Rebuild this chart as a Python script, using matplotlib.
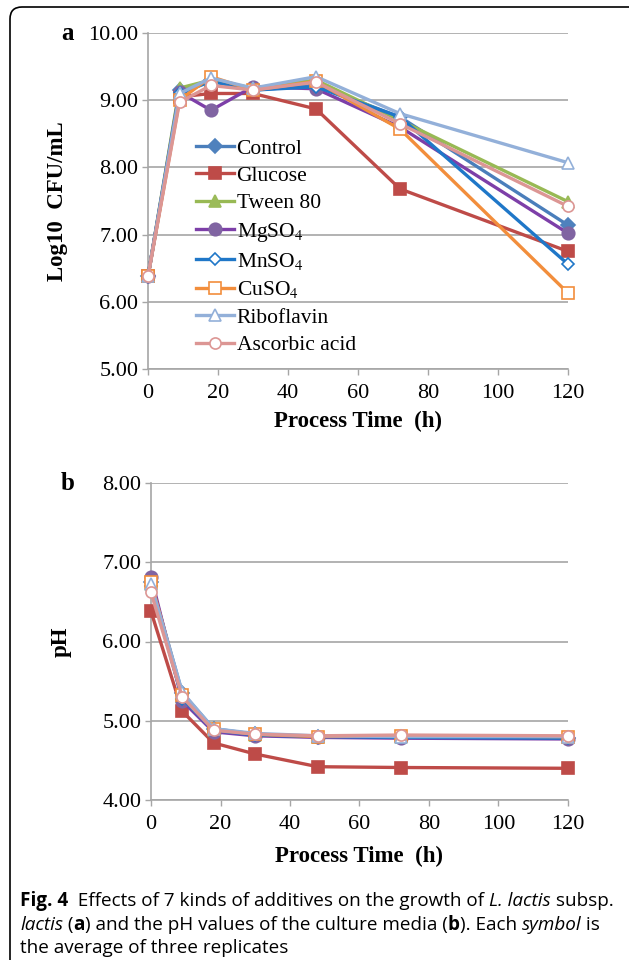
import matplotlib
matplotlib.use("Agg")
import matplotlib.pyplot as plt
from matplotlib.path import Path
from matplotlib.patches import PathPatch

plt.rcParams['font.family'] = ['Liberation Serif', 'DejaVu Serif']
plt.rcParams['mathtext.fontset'] = 'stix'

# -------------------------
# Data
# -------------------------
hours = [0, 9, 18, 30, 48, 72, 120]
labels = ["Control", "Glucose", "Tween 80", "MgSO$_4$", "MnSO$_4$",
          "CuSO$_4$", "Riboflavin", "Ascorbic acid"]

cfu_control = [6.38, 9.15, 9.30, 9.15, 9.22, 8.75, 7.14]
cfu_glucose = [6.38, 9.05, 9.10, 9.10, 8.87, 7.68, 6.75]
cfu_tween = [6.38, 9.18, 9.30, 9.18, 9.30, 8.70, 7.49]
cfu_mgso4 = [6.38, 9.12, 8.85, 9.20, 9.17, 8.60, 7.02]
cfu_mnso4 = [6.38, 9.10, 9.28, 9.15, 9.20, 8.75, 6.56]
cfu_cuso4 = [6.38, 9.00, 9.35, 9.15, 9.28, 8.57, 6.13]
cfu_ribo = [6.38, 9.10, 9.33, 9.18, 9.35, 8.80, 8.07]
cfu_asc = [6.38, 8.97, 9.22, 9.15, 9.27, 8.65, 7.42]

ph_control = [6.75, 5.35, 4.90, 4.83, 4.80, 4.79, 4.78]
ph_glucose = [6.38, 5.12, 4.72, 4.58, 4.42, 4.41, 4.40]
ph_tween = [6.72, 5.30, 4.88, 4.82, 4.80, 4.80, 4.79]
ph_mgso4 = [6.82, 5.25, 4.86, 4.81, 4.79, 4.78, 4.77]
ph_mnso4 = [6.70, 5.28, 4.88, 4.82, 4.80, 4.79, 4.78]
ph_cuso4 = [6.75, 5.32, 4.89, 4.83, 4.80, 4.81, 4.80]
ph_ribo = [6.72, 5.36, 4.90, 4.84, 4.81, 4.80, 4.80]
ph_asc = [6.62, 5.30, 4.88, 4.83, 4.81, 4.82, 4.81]

cfu_all = [cfu_control, cfu_glucose, cfu_tween, cfu_mgso4,
           cfu_mnso4, cfu_cuso4, cfu_ribo, cfu_asc]
ph_all = [ph_control, ph_glucose, ph_tween, ph_mgso4,
          ph_mnso4, ph_cuso4, ph_ribo, ph_asc]

# -------------------------
# Styles
# -------------------------
line_colors = ["#4a7ebb", "#be4b48", "#98b954", "#7d3fa8",
               "#1f77c8", "#f28e3c", "#93b0d9", "#dc9694"]
marker_faces = ["#4f81bd", "#be4b48", "#9bbb59", "#8064a2",
                "white", "white", "white", "white"]
markers = ["D", "s", "^", "o", "D", "s", "^", "o"]
sizes = [7, 8, 8, 9, 6, 8, 8, 8]

GRID = "#a6a6a6"

fig = plt.figure(figsize=(6.29, 9.65), dpi=100)
W, H = 629, 965


def fbox(l, t, r, b):
    return [l / W, 1 - b / H, (r - l) / W, (b - t) / H]


def style_axes(ax, ylo, yhi):
    ax.set_xlim(0, 120)
    ax.set_ylim(ylo, yhi)
    ax.set_xticks(range(0, 121, 20))
    ax.set_yticks([ylo + i for i in range(int(yhi - ylo) + 1)])
    ax.yaxis.set_major_formatter(matplotlib.ticker.FormatStrFormatter('%.2f'))
    for s in ["top", "right"]:
        ax.spines[s].set_visible(False)
    for s in ["left", "bottom"]:
        ax.spines[s].set_color(GRID)
        ax.spines[s].set_linewidth(1.2)
    ax.grid(axis="y", color=GRID, linewidth=1.2)
    ax.set_axisbelow(True)
    ax.tick_params(axis="both", colors=GRID, labelcolor="black",
                   labelsize=16, length=4, width=1.0)
    ax.tick_params(axis="x", pad=7)
    ax.tick_params(axis="y", pad=3)


def draw_series(ax, data):
    for i, vals in enumerate(data):
        ax.plot(hours, vals, color=line_colors[i], linewidth=2.4,
                marker=markers[i], markersize=sizes[i],
                markerfacecolor=marker_faces[i],
                markeredgecolor=line_colors[i] if i >= 4 else marker_faces[i],
                markeredgewidth=1.2, label=labels[i], clip_on=False, zorder=3 + i)


# -------------------------
# Panel a: growth
# -------------------------
ax1 = fig.add_axes(fbox(148, 33, 568, 369))
style_axes(ax1, 5, 10)
draw_series(ax1, cfu_all)
ax1.set_ylabel("Log10  CFU/mL", fontsize=16.5, fontweight="bold")
ax1.yaxis.set_label_coords(-0.19, 0.5)
ax1.set_xlabel("Process Time  (h)", fontsize=16.5, fontweight="bold")
ax1.xaxis.set_label_coords(0.5, -0.125)
leg = ax1.legend(loc="upper left", bbox_to_anchor=(0.115, 0.686), frameon=False,
                 fontsize=15.5, handlelength=1.75, handletextpad=0.12,
                 labelspacing=0.34, borderpad=0, borderaxespad=0)
fig.text(68 / W, 1 - 33 / H, "a", fontsize=18, fontweight="bold",
         ha="center", va="center")

# -------------------------
# Panel b: pH
# -------------------------
ax2 = fig.add_axes(fbox(151, 483, 568, 800))
style_axes(ax2, 4, 8)
draw_series(ax2, ph_all)
ax2.set_ylabel("pH", fontsize=16.5, fontweight="bold")
ax2.yaxis.set_label_coords(-0.19, 0.5)
ax2.set_xlabel("Process Time  (h)", fontsize=16.5, fontweight="bold")
ax2.xaxis.set_label_coords(0.5, -0.145)
fig.text(68 / W, 1 - 483 / H, "b", fontsize=18, fontweight="bold",
         ha="center", va="center")

# -------------------------
# Frame around the figure
# -------------------------
verts = [(10, 960), (10, 19), (10, 7), (22, 7), (629, 7)]
codes = [Path.MOVETO, Path.LINETO, Path.CURVE3, Path.CURVE3, Path.LINETO]
verts = [(x / W, 1 - y / H) for x, y in verts]
fig.patches.append(PathPatch(Path(verts, codes), transform=fig.transFigure,
                             facecolor="none", edgecolor="black", linewidth=1.2))

# -------------------------
# Caption with mixed styles
# -------------------------
cap_font = ["Open Sans", "DejaVu Sans"]
cap_size = 13.55
caption = [
    [("Fig. 4", "normal", "bold"), ("  Effects of 7 kinds of additives on the growth of ", "normal", "normal"),
     ("L. lactis", "italic", "normal"), (" subsp.", "normal", "normal")],
    [("lactis", "italic", "normal"), (" (", "normal", "normal"), ("a", "normal", "bold"),
     (") and the pH values of the culture media (", "normal", "normal"), ("b", "normal", "bold"),
     ("). Each ", "normal", "normal"), ("symbol", "italic", "normal"), (" is", "normal", "normal")],
    [("the average of three replicates", "normal", "normal")],
]
baselines = [906, 930, 953]
renderer = fig.canvas.get_renderer()
for runs, base in zip(caption, baselines):
    x = 20
    for txt, st, wt in runs:
        t = fig.text(x / W, 1 - base / H, txt, fontsize=cap_size, family=cap_font,
                     style=st, fontweight=wt, va="baseline", ha="left")
        bb = t.get_window_extent(renderer)
        x += bb.width

fig.savefig("out.png", dpi=100)
